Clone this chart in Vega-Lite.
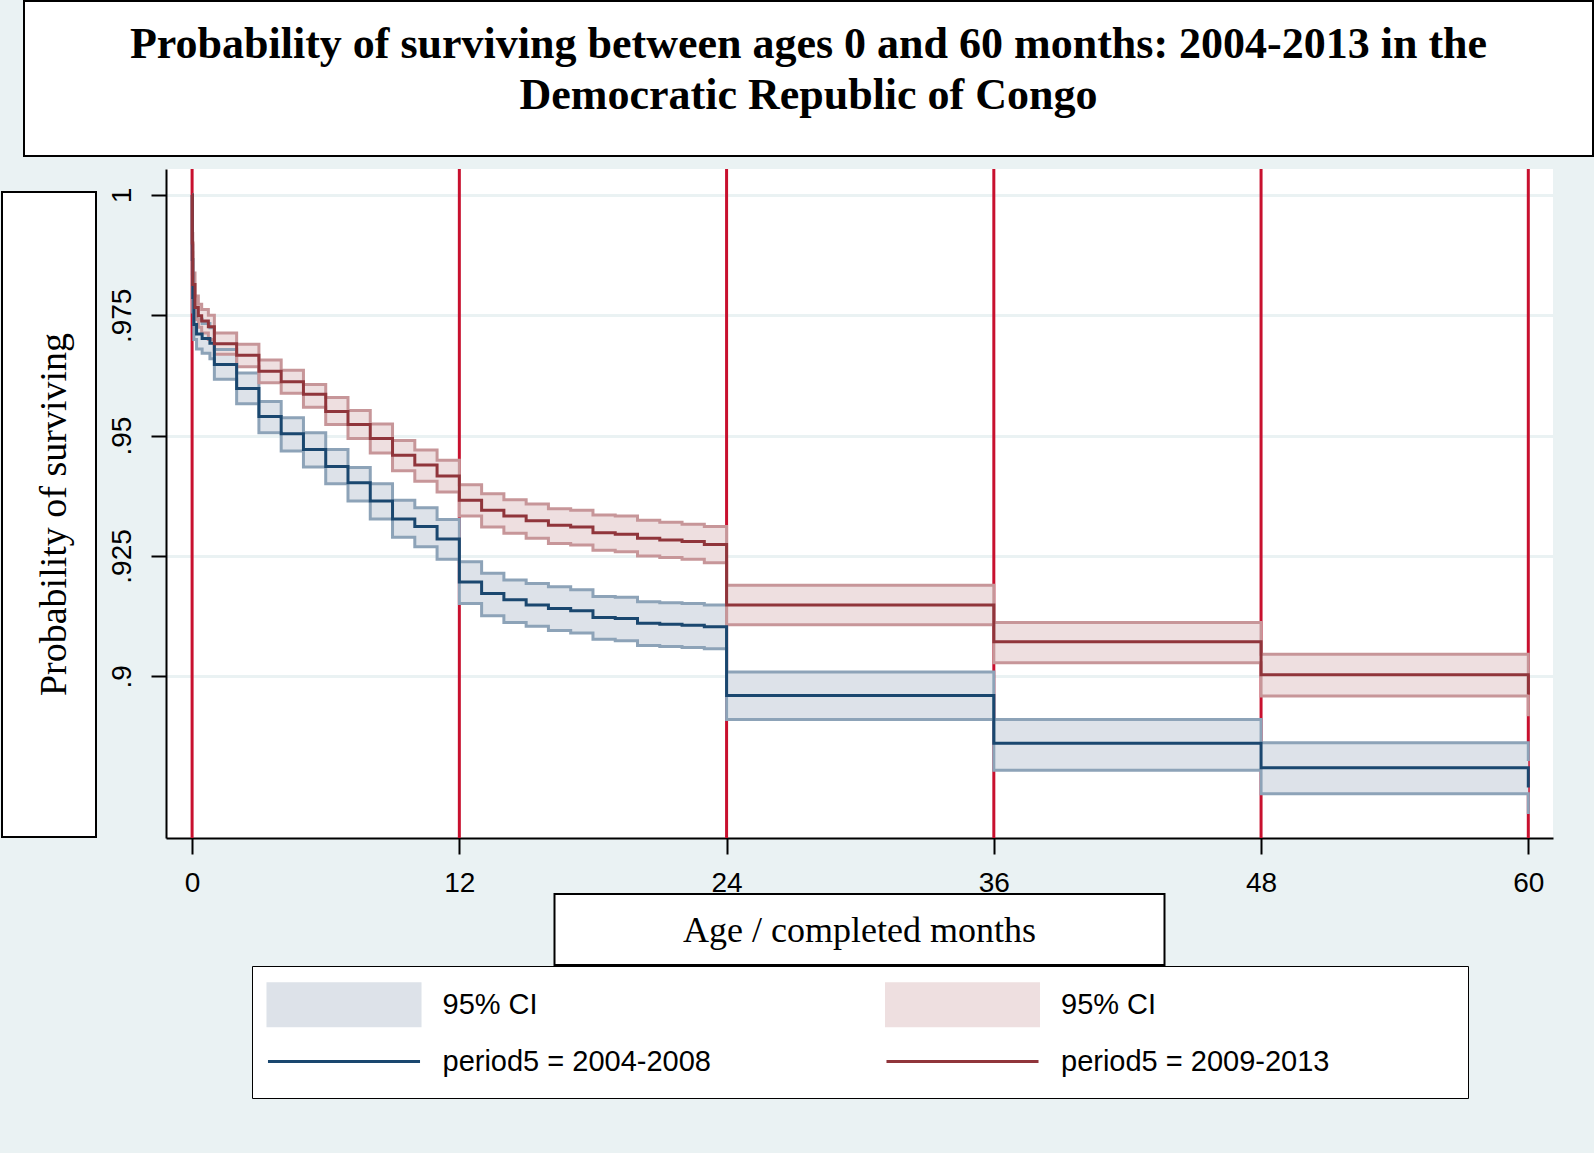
{
  "$schema": "https://vega.github.io/schema/vega-lite/v6.json",
  "background": "#EAF2F3",
  "padding": {"left": 1, "top": 0, "right": 0, "bottom": 54},
  "config": {"view": {"stroke": null}},
  "datasets": {
    "xl": [{"m": 0}, {"m": 12}, {"m": 24}, {"m": 36}, {"m": 48}, {"m": 60}],
    "km": [
      {"g": "2004-2008", "t": 0, "s": 1, "lo": 1, "hi": 1},
      {"g": "2004-2008", "t": 0.01, "s": 0.9866, "lo": 0.9836, "hi": 0.9896},
      {"g": "2004-2008", "t": 0.03, "s": 0.9787, "lo": 0.9757, "hi": 0.9817},
      {"g": "2004-2008", "t": 0.08, "s": 0.9731, "lo": 0.97, "hi": 0.9762},
      {"g": "2004-2008", "t": 0.2, "s": 0.9711, "lo": 0.968, "hi": 0.9742},
      {"g": "2004-2008", "t": 0.45, "s": 0.9702, "lo": 0.9671, "hi": 0.9733},
      {"g": "2004-2008", "t": 0.8, "s": 0.9692, "lo": 0.966, "hi": 0.9724},
      {"g": "2004-2008", "t": 1, "s": 0.9648, "lo": 0.9617, "hi": 0.9679},
      {"g": "2004-2008", "t": 2, "s": 0.9598, "lo": 0.9566, "hi": 0.963},
      {"g": "2004-2008", "t": 3, "s": 0.954, "lo": 0.9506, "hi": 0.9571},
      {"g": "2004-2008", "t": 4, "s": 0.9504, "lo": 0.9468, "hi": 0.9537},
      {"g": "2004-2008", "t": 5, "s": 0.9471, "lo": 0.9435, "hi": 0.9506},
      {"g": "2004-2008", "t": 6, "s": 0.9436, "lo": 0.94, "hi": 0.9471},
      {"g": "2004-2008", "t": 7, "s": 0.9402, "lo": 0.9364, "hi": 0.9434},
      {"g": "2004-2008", "t": 8, "s": 0.9364, "lo": 0.9327, "hi": 0.94},
      {"g": "2004-2008", "t": 9, "s": 0.9327, "lo": 0.9289, "hi": 0.9366},
      {"g": "2004-2008", "t": 10, "s": 0.9311, "lo": 0.9269, "hi": 0.935},
      {"g": "2004-2008", "t": 11, "s": 0.9285, "lo": 0.9243, "hi": 0.9326},
      {"g": "2004-2008", "t": 12, "s": 0.9196, "lo": 0.9151, "hi": 0.9238},
      {"g": "2004-2008", "t": 13, "s": 0.9172, "lo": 0.9126, "hi": 0.9214},
      {"g": "2004-2008", "t": 14, "s": 0.9159, "lo": 0.9112, "hi": 0.92},
      {"g": "2004-2008", "t": 15, "s": 0.9148, "lo": 0.9104, "hi": 0.9193},
      {"g": "2004-2008", "t": 16, "s": 0.9141, "lo": 0.9095, "hi": 0.9186},
      {"g": "2004-2008", "t": 17, "s": 0.9136, "lo": 0.909, "hi": 0.918},
      {"g": "2004-2008", "t": 18, "s": 0.9122, "lo": 0.9077, "hi": 0.9166},
      {"g": "2004-2008", "t": 19, "s": 0.912, "lo": 0.9074, "hi": 0.9164},
      {"g": "2004-2008", "t": 20, "s": 0.911, "lo": 0.9064, "hi": 0.9155},
      {"g": "2004-2008", "t": 21, "s": 0.9108, "lo": 0.9062, "hi": 0.9153},
      {"g": "2004-2008", "t": 22, "s": 0.9106, "lo": 0.906, "hi": 0.9151},
      {"g": "2004-2008", "t": 23, "s": 0.9103, "lo": 0.9057, "hi": 0.9148},
      {"g": "2004-2008", "t": 24, "s": 0.896, "lo": 0.891, "hi": 0.9009},
      {"g": "2004-2008", "t": 36, "s": 0.8861, "lo": 0.8805, "hi": 0.891},
      {"g": "2004-2008", "t": 48, "s": 0.881, "lo": 0.8756, "hi": 0.8862},
      {"g": "2004-2008", "t": 60, "s": 0.8769, "lo": 0.8714, "hi": 0.8824},
      {"g": "2009-2013", "t": 0, "s": 1, "lo": 1, "hi": 1},
      {"g": "2009-2013", "t": 0.01, "s": 0.99, "lo": 0.988, "hi": 0.992},
      {"g": "2009-2013", "t": 0.03, "s": 0.9814, "lo": 0.979, "hi": 0.9838},
      {"g": "2009-2013", "t": 0.13, "s": 0.9766, "lo": 0.9742, "hi": 0.979},
      {"g": "2009-2013", "t": 0.28, "s": 0.9749, "lo": 0.9725, "hi": 0.9773},
      {"g": "2009-2013", "t": 0.43, "s": 0.9738, "lo": 0.9713, "hi": 0.9762},
      {"g": "2009-2013", "t": 0.73, "s": 0.9726, "lo": 0.97, "hi": 0.975},
      {"g": "2009-2013", "t": 1, "s": 0.9691, "lo": 0.9669, "hi": 0.9713},
      {"g": "2009-2013", "t": 2, "s": 0.9667, "lo": 0.9643, "hi": 0.969},
      {"g": "2009-2013", "t": 3, "s": 0.9634, "lo": 0.961, "hi": 0.9657},
      {"g": "2009-2013", "t": 4, "s": 0.9612, "lo": 0.9588, "hi": 0.9636},
      {"g": "2009-2013", "t": 5, "s": 0.9586, "lo": 0.9559, "hi": 0.9606},
      {"g": "2009-2013", "t": 6, "s": 0.955, "lo": 0.9523, "hi": 0.9579},
      {"g": "2009-2013", "t": 7, "s": 0.9523, "lo": 0.9494, "hi": 0.9552},
      {"g": "2009-2013", "t": 8, "s": 0.9494, "lo": 0.9464, "hi": 0.9524},
      {"g": "2009-2013", "t": 9, "s": 0.9459, "lo": 0.9427, "hi": 0.949},
      {"g": "2009-2013", "t": 10, "s": 0.9439, "lo": 0.9405, "hi": 0.947},
      {"g": "2009-2013", "t": 11, "s": 0.9416, "lo": 0.9383, "hi": 0.9449},
      {"g": "2009-2013", "t": 12, "s": 0.9366, "lo": 0.9333, "hi": 0.9398},
      {"g": "2009-2013", "t": 13, "s": 0.9345, "lo": 0.931, "hi": 0.9379},
      {"g": "2009-2013", "t": 14, "s": 0.9333, "lo": 0.9297, "hi": 0.9367},
      {"g": "2009-2013", "t": 15, "s": 0.9323, "lo": 0.9287, "hi": 0.9358},
      {"g": "2009-2013", "t": 16, "s": 0.9314, "lo": 0.9276, "hi": 0.9348},
      {"g": "2009-2013", "t": 17, "s": 0.931, "lo": 0.9273, "hi": 0.9345},
      {"g": "2009-2013", "t": 18, "s": 0.9298, "lo": 0.9262, "hi": 0.9335},
      {"g": "2009-2013", "t": 19, "s": 0.9295, "lo": 0.9259, "hi": 0.9333},
      {"g": "2009-2013", "t": 20, "s": 0.9287, "lo": 0.925, "hi": 0.9324},
      {"g": "2009-2013", "t": 21, "s": 0.9283, "lo": 0.9247, "hi": 0.932},
      {"g": "2009-2013", "t": 22, "s": 0.928, "lo": 0.9243, "hi": 0.9316},
      {"g": "2009-2013", "t": 23, "s": 0.9274, "lo": 0.9236, "hi": 0.9311},
      {"g": "2009-2013", "t": 24, "s": 0.9148, "lo": 0.9107, "hi": 0.9189},
      {"g": "2009-2013", "t": 36, "s": 0.9072, "lo": 0.9028, "hi": 0.9112},
      {"g": "2009-2013", "t": 48, "s": 0.9003, "lo": 0.8959, "hi": 0.9046},
      {"g": "2009-2013", "t": 60, "s": 0.8962, "lo": 0.8917, "hi": 0.9003}
    ]
  },
  "bounds": "full",
  "spacing": 6,
  "vconcat": [
    {
      "bounds": "flush",
      "spacing": 21,
      "hconcat": [
        {
          "width": 1,
          "height": 155,
          "data": {"values": [{}]},
          "mark": {"type": "text", "text": ""}
        },
        {
          "width": 1569,
          "height": 155,
          "view": {"fill": "white", "stroke": "black", "strokeWidth": 2},
          "data": {"values": [{}]},
          "mark": {
            "type": "text",
            "text": ["Probability of surviving between ages 0 and 60 months: 2004-2013 in the", "Democratic Republic of Congo"],
            "font": "Liberation Serif",
            "fontWeight": "bold",
            "fontSize": 44,
            "lineHeight": 51,
            "align": "center",
            "baseline": "alphabetic",
            "dy": -21,
            "color": "black"
          }
        }
      ]
    },
    {
      "bounds": "full",
      "spacing": 10,
      "hconcat": [
        {
          "bounds": "flush",
          "spacing": 22,
          "vconcat": [
            {
              "width": 94,
              "height": 1,
              "data": {"values": [{}]},
              "mark": {"type": "text", "text": ""}
            },
            {
              "width": 94,
              "height": 645,
              "view": {"fill": "white", "stroke": "black", "strokeWidth": 2},
              "data": {"values": [{}]},
              "mark": {
                "type": "text",
                "text": "Probability of surviving",
                "angle": 270,
                "font": "Liberation Serif",
                "fontSize": 38,
                "align": "center",
                "baseline": "alphabetic",
                "dy": 17,
                "color": "black"
              }
            }
          ]
        },
        {
          "bounds": "flush",
          "center": true,
          "spacing": 56,
          "vconcat": [
            {
              "width": 1387,
              "height": 669,
              "view": {"fill": "white"},
              "layer": [
                {
                  "data": {"name": "xl"},
                  "mark": {"type": "rule", "color": "#C8102E", "strokeWidth": 3},
                  "encoding": {
                    "x": {
                      "field": "m",
                      "type": "quantitative",
                      "scale": {"domain": [-1.172, 61.109], "nice": false, "zero": false},
                      "axis": {
                        "values": [0, 12, 24, 36, 48, 60],
                        "title": null,
                        "grid": false,
                        "format": "d",
                        "domainColor": "black",
                        "domainWidth": 2,
                        "tickColor": "black",
                        "tickWidth": 2,
                        "tickSize": 16,
                        "labelFont": "Liberation Sans",
                        "labelFontSize": 28,
                        "labelColor": "black",
                        "labelPadding": 15,
                        "labelFlush": false,
                        "labelOverlap": false
                      }
                    }
                  }
                },
                {
                  "data": {"name": "km"},
                  "transform": [{"calculate": "'95% CI ' + datum.g", "as": "band"}],
                  "mark": {"type": "area", "interpolate": "step-after", "opacity": 1},
                  "encoding": {
                    "x": {"field": "t", "type": "quantitative", "scale": {"domain": [-1.172, 61.109], "nice": false, "zero": false}},
                    "y": {
                      "field": "lo",
                      "type": "quantitative",
                      "scale": {"domain": [0.8664, 1.0054], "nice": false, "zero": false},
                      "axis": {
                        "values": [0.9, 0.925, 0.95, 0.975, 1],
                        "title": null,
                        "grid": true,
                        "gridColor": "#EAF2F3",
                        "gridWidth": 3,
                        "domainColor": "black",
                        "domainWidth": 2,
                        "tickColor": "black",
                        "tickWidth": 2,
                        "tickSize": 15,
                        "labelAngle": 270,
                        "labelAlign": "center",
                        "labelBaseline": "bottom",
                        "labelFont": "Liberation Sans",
                        "labelFontSize": 28,
                        "labelColor": "black",
                        "labelPadding": 15,
                        "labelFlush": false,
                        "labelOverlap": false,
                        "labelExpr": "datum.value == 1 ? '1' : replace(format(datum.value, '.3~f'), '0.', '.')"
                      }
                    },
                    "y2": {"field": "hi"},
                    "color": {
                      "field": "band",
                      "type": "nominal",
                      "scale": {
                        "domain": ["95% CI 2004-2008", "95% CI 2009-2013", "period5 = 2004-2008", "period5 = 2009-2013"],
                        "range": ["#DDE2E9", "#EEDFE0", "#1A476F", "#90353B"]
                      },
                      "legend": {
                        "orient": "none",
                        "legendX": 250,
                        "legendY": 965,
                        "columns": 2,
                        "direction": "horizontal",
                        "title": null,
                        "symbolType": {"expr": "datum.index == 0 ? 'M-3.62,-1H3.62V1H-3.62Z' : datum.index == 1 ? 'M-3.62,-1H3.62V1H-3.62ZM23,0' : 'M-3.62,0H3.62M0,-1M0,0.67'"},
                        "symbolSize": 1764,
                        "symbolStrokeWidth": 3,
                        "symbolFillColor": {"expr": "datum.index == 0 ? '#DDE2E9' : datum.index == 1 ? '#EEDFE0' : 'transparent'"},
                        "symbolStrokeColor": {"expr": "datum.index == 2 ? '#1A476F' : datum.index == 3 ? '#90353B' : 'transparent'"},
                        "symbolOpacity": 1,
                        "symbolOffset": 53.5,
                        "labelOffset": 76,
                        "labelFont": "Liberation Sans",
                        "labelFontSize": 29,
                        "labelColor": "black",
                        "labelLimit": 0,
                        "labelExpr": "datum.index < 2 ? '95% CI' : datum.label",
                        "columnPadding": 168.5,
                        "rowPadding": 2,
                        "padding": 16,
                        "strokeColor": "black",
                        "fillColor": "white"
                      }
                    }
                  }
                },
                {
                  "data": {"name": "km"},
                  "mark": {"type": "line", "interpolate": "step-after", "strokeWidth": 3},
                  "encoding": {
                    "x": {"field": "t", "type": "quantitative"},
                    "y": {"field": "hi", "type": "quantitative"},
                    "stroke": {"field": "g", "type": "nominal", "scale": {"domain": ["2004-2008", "2009-2013"], "range": ["#8DA3B8", "#C79699"]}, "legend": null}
                  }
                },
                {
                  "data": {"name": "km"},
                  "mark": {"type": "line", "interpolate": "step-after", "strokeWidth": 3},
                  "encoding": {
                    "x": {"field": "t", "type": "quantitative"},
                    "y": {"field": "lo", "type": "quantitative"},
                    "stroke": {"field": "g", "type": "nominal", "scale": {"domain": ["2004-2008", "2009-2013"], "range": ["#8DA3B8", "#C79699"]}, "legend": null}
                  }
                },
                {
                  "data": {"name": "km"},
                  "transform": [{"calculate": "'period5 = ' + datum.g", "as": "curve"}],
                  "mark": {"type": "line", "interpolate": "step-after", "strokeWidth": 3},
                  "encoding": {
                    "x": {"field": "t", "type": "quantitative"},
                    "y": {"field": "s", "type": "quantitative"},
                    "color": {"field": "curve", "type": "nominal"}
                  }
                }
              ]
            },
            {
              "width": 610,
              "height": 71,
              "view": {"fill": "white", "stroke": "black", "strokeWidth": 2},
              "data": {"values": [{}]},
              "mark": {
                "type": "text",
                "text": "Age / completed months",
                "font": "Liberation Serif",
                "fontSize": 36,
                "align": "center",
                "baseline": "alphabetic",
                "dy": 12,
                "color": "black"
              }
            }
          ]
        }
      ]
    }
  ]
}
